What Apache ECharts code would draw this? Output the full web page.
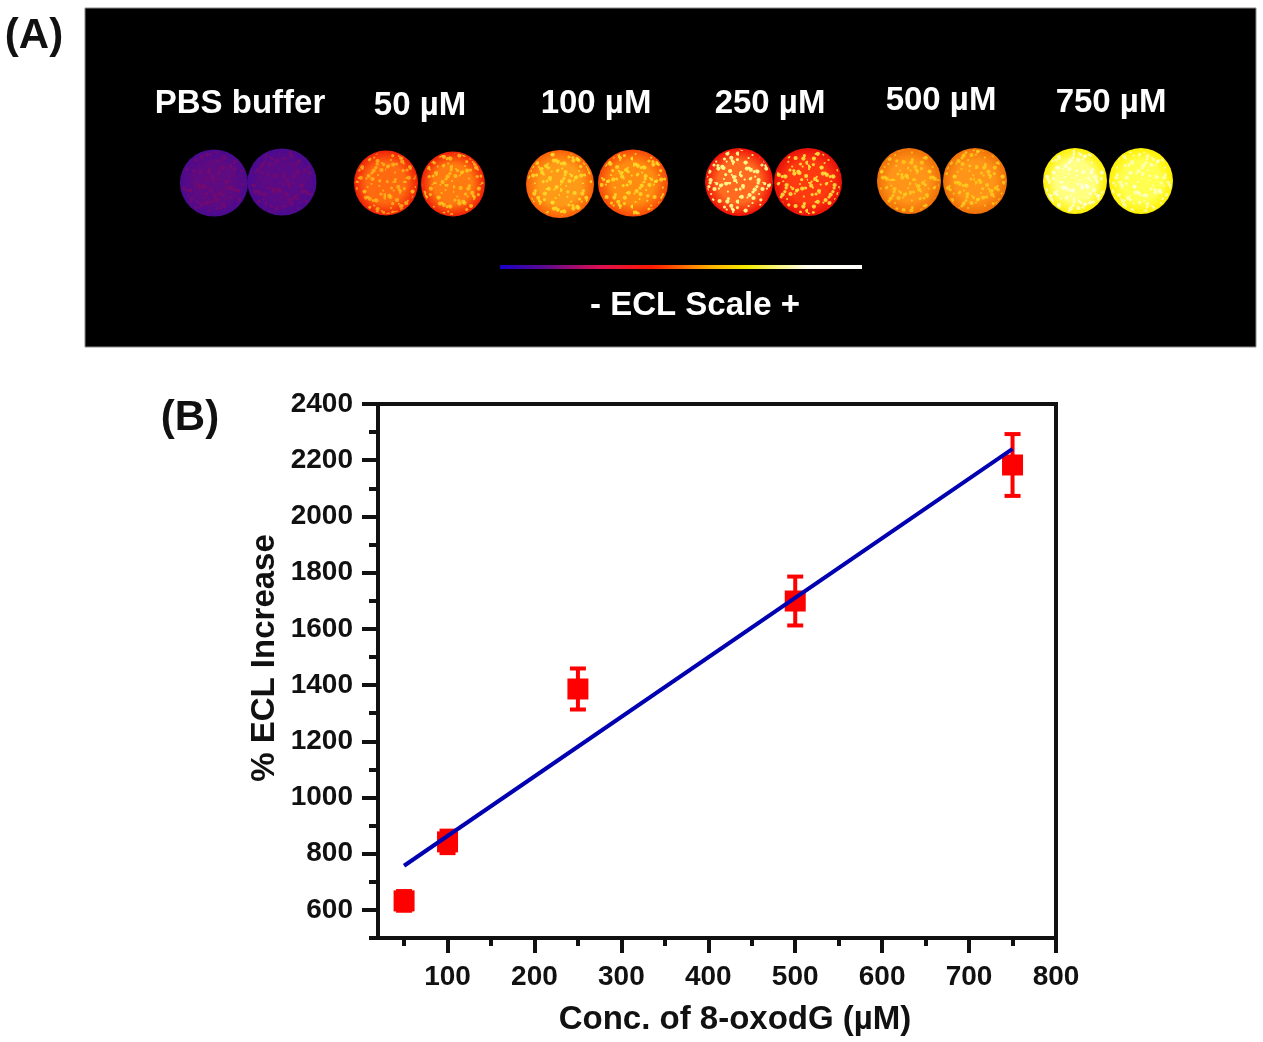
<!DOCTYPE html>
<html>
<head>
<meta charset="utf-8">
<style>html,body{margin:0;padding:0;background:#fff}#c{width:1263px;height:1042px}</style>
<script src="https://cdn.jsdelivr.net/npm/echarts@6/dist/echarts.min.js"></script>
</head>
<body>
<div id="c"></div>
<script>
// Panel B data
const concentrations = [50, 100, 250, 500, 750];
const eclIncrease = [632, 842, 1386, 1699, 2183];
const eclError = [35, 40, 73, 87, 110];
const fitX = [50, 750];
const fitY = [757, 2240];
const xMajorTicks = [100, 200, 300, 400, 500, 600, 700, 800];
const xMinorTicks = [50, 150, 250, 350, 450, 550, 650, 750];
const yMajorTicks = [600, 800, 1000, 1200, 1400, 1600, 1800, 2000, 2200, 2400];
const yMinorTicks = [500, 700, 900, 1100, 1300, 1500, 1700, 1900, 2100, 2300];

// Panel A data: wells
const spotLabels = ['PBS buffer', '50 µM', '100 µM', '250 µM', '500 µM', '750 µM'];
const labelX = [240, 420, 596, 770, 941, 1111];
const labelY = [104, 106, 104, 104, 101, 103];
const spotX = [214, 282, 386, 453, 560, 633, 739, 808, 909, 975, 1075, 1141];
const spotY = [183, 182, 183, 184, 184, 183, 182, 182, 181, 181, 181, 181];
const spotW = [68, 69, 64, 64, 68, 70, 68, 68, 64, 64, 64, 64];
const spotH = [67, 67, 65, 65, 68, 67, 68, 68, 66, 66, 66, 66];
const spotInner = ['#5e0a80','#5a0a84','#ff6a10','#ff7a10','#ff9a18','#ff8c10','#ff6a20','#ff3a10','#ff9418','#ff9418','#ffff80','#ffff50'];
const spotOuter = ['#4a0a90','#4a0a90','#f02008','#f02008','#fa6008','#f84808','#f01008','#e81008','#f07008','#f07008','#fff000','#fff000'];
const spotSpeck = ['rgba(130,10,100,.55)','rgba(130,10,100,.55)','rgba(255,190,30,.75)','rgba(255,200,30,.8)','rgba(255,225,40,.8)','rgba(255,225,40,.8)','rgba(255,250,140,.95)','rgba(255,225,60,.9)','rgba(255,215,30,.7)','rgba(255,215,30,.7)','rgba(255,255,235,.75)','rgba(255,255,235,.6)'];

// ECL colour scale
const scaleOffsets = [0, 0.12, 0.28, 0.42, 0.58, 0.68, 0.85, 1];
const scaleColors = ['#1a00c8', '#5a0a90', '#e01050', '#ff1a00', '#ffb000', '#f4ec00', '#fffff0', '#ffffff'];

const FONT = '"Liberation Sans", Arial, sans-serif';
const INK = '#111111';

// Decorative mottling only (not data): a small tile of fixed dots.
function speckTile(color, phase) {
  const size = 48, cv = document.createElement('canvas');
  cv.width = cv.height = size;
  const g = cv.getContext('2d');
  g.fillStyle = color;
  for (let k = 0; k < 70; k++) {
    const x = (k * 17.3 + phase * 7) % size;
    const y = (k * k * 3.7 + k * 11.1 + phase * 5) % size;
    g.beginPath();
    g.arc(x, y, 1.1 + (k % 3) * 0.5, 0, Math.PI * 2);
    g.fill();
  }
  return cv;
}
function radial(i) {
  return { type: 'radial', x: 0.5, y: 0.5, r: 0.5, colorStops: [
    { offset: 0, color: spotInner[i] }, { offset: 0.6, color: spotInner[i] }, { offset: 1, color: spotOuter[i] }
  ]};
}
function txt(t, x, y, size, color) {
  return { type: 'text', x: x, y: y, z: 50,
    style: { text: t, font: 'bold ' + size + 'px ' + FONT, fill: color, align: 'center', verticalAlign: 'middle' } };
}
function plain(v) { return String(v); }

const wellSeries = [];
spotX.forEach(function (x, i) {
  const tw = spotW[i] * 0.95, th = spotH[i] * 0.95;
  wellSeries.push({ type: 'scatter', name: 'Well ' + i, xAxisIndex: 0, yAxisIndex: 0, silent: true, z: 2,
    symbol: 'circle', symbolSize: [spotW[i], spotH[i]],
    itemStyle: { color: radial(i), opacity: 1 },
    data: [[x, spotY[i]]] });
  wellSeries.push({ type: 'scatter', name: 'Well texture ' + i, xAxisIndex: 0, yAxisIndex: 0, silent: true, z: 3,
    symbol: 'circle', symbolSize: [tw, th],
    itemStyle: { color: { image: speckTile(spotSpeck[i], i), repeat: 'repeat', scaleX: 2 / tw, scaleY: 2 / th }, opacity: 1 },
    data: [[x, spotY[i]]] });
});

const chart = echarts.init(document.getElementById('c'), null, { renderer: 'canvas' });
chart.setOption({
  animation: false,
  backgroundColor: '#ffffff',
  grid: [
    { left: 85, top: 8, width: 1171, height: 339, show: true, backgroundColor: '#000000', borderColor: '#8a8a8a', borderWidth: 1, containLabel: false },
    { left: 378, top: 404, width: 678, height: 534, show: true, backgroundColor: '#ffffff', borderColor: INK, borderWidth: 4, containLabel: false }
  ],
  xAxis: [
    { gridIndex: 0, type: 'value', min: 85, max: 1256, show: false },
    { gridIndex: 1, type: 'value', min: 20, max: 800,
      name: 'Conc. of 8-oxodG (µM)', nameLocation: 'middle', nameGap: 65, nameMoveOverlap: false,
      nameTextStyle: { fontWeight: 'bold', fontSize: 33, fontFamily: FONT, color: INK, padding: [0, 0, 0, 36] },
      axisLine: { show: true, onZero: false, lineStyle: { color: INK, width: 4 } },
      axisTick: { show: true, length: 15, lineStyle: { color: INK, width: 4 }, customValues: xMajorTicks },
      axisLabel: { show: true, margin: 25, fontSize: 28, fontWeight: 'bold', fontFamily: FONT, color: INK, customValues: xMajorTicks, hideOverlap: false, formatter: plain },
      splitLine: { show: false } },
    { gridIndex: 1, type: 'value', min: 20, max: 800, position: 'bottom',
      axisLine: { show: false },
      axisTick: { show: true, length: 8, lineStyle: { color: INK, width: 4 }, customValues: xMinorTicks },
      axisLabel: { show: false }, splitLine: { show: false } }
  ],
  yAxis: [
    { gridIndex: 0, type: 'value', min: 8, max: 347, inverse: true, show: false },
    { gridIndex: 1, type: 'value', min: 500, max: 2400,
      name: '% ECL Increase', nameLocation: 'middle', nameGap: 97, nameMoveOverlap: false,
      nameTextStyle: { fontWeight: 'bold', fontSize: 33, fontFamily: FONT, color: INK, padding: [0, 0, 0, 26] },
      axisLine: { show: true, onZero: false, lineStyle: { color: INK, width: 4 } },
      axisTick: { show: true, length: 16, lineStyle: { color: INK, width: 4 }, customValues: yMajorTicks },
      axisLabel: { show: true, margin: 25, fontSize: 28, fontWeight: 'bold', fontFamily: FONT, color: INK, customValues: yMajorTicks, hideOverlap: false, formatter: plain },
      splitLine: { show: false } },
    { gridIndex: 1, type: 'value', min: 500, max: 2400, position: 'left',
      axisLine: { show: false },
      axisTick: { show: true, length: 9, lineStyle: { color: INK, width: 4 }, customValues: yMinorTicks },
      axisLabel: { show: false }, splitLine: { show: false } }
  ],
  series: wellSeries.concat([
    { type: 'custom', name: 'Error', xAxisIndex: 1, yAxisIndex: 1, silent: true, z: 3,
      data: concentrations.map(function (c, i) { return [c, eclIncrease[i] - eclError[i], eclIncrease[i] + eclError[i]]; }),
      renderItem: function (params, api) {
        const lo = api.coord([api.value(0), api.value(1)]);
        const hi = api.coord([api.value(0), api.value(2)]);
        const style = { stroke: '#ff0000', lineWidth: 4, fill: 'none' };
        return { type: 'group', children: [
          { type: 'line', shape: { x1: lo[0], y1: lo[1], x2: hi[0], y2: hi[1] }, style: style },
          { type: 'line', shape: { x1: lo[0] - 8, y1: lo[1], x2: lo[0] + 8, y2: lo[1] }, style: style },
          { type: 'line', shape: { x1: hi[0] - 8, y1: hi[1], x2: hi[0] + 8, y2: hi[1] }, style: style }
        ]};
      } },
    { type: 'scatter', name: 'ECL', xAxisIndex: 1, yAxisIndex: 1, silent: true, z: 4,
      symbol: 'rect', symbolSize: 21, itemStyle: { color: '#ff0000', opacity: 1 },
      data: concentrations.map(function (c, i) { return [c, eclIncrease[i]]; }) },
    { type: 'line', name: 'Fit', xAxisIndex: 1, yAxisIndex: 1, silent: true, z: 5,
      showSymbol: false, symbol: 'none', lineStyle: { color: '#0000b0', width: 4 },
      data: fitX.map(function (x, i) { return [x, fitY[i]]; }) }
  ]),
  graphic: { elements: [
    txt('(A)', 34, 36, 42, INK),
    txt('(B)', 190, 418, 42, INK),
    { type: 'rect', z: 50, shape: { x: 500, y: 265, width: 362, height: 4 },
      style: { fill: { type: 'linear', x: 0, y: 0, x2: 1, y2: 0,
        colorStops: scaleOffsets.map(function (o, i) { return { offset: o, color: scaleColors[i] }; }) } } },
    txt('- ECL Scale +', 695, 306, 33, '#ffffff')
  ].concat(spotLabels.map(function (t, i) { return txt(t, labelX[i], labelY[i], 33, '#ffffff'); })) }
});
</script>
</body>
</html>
